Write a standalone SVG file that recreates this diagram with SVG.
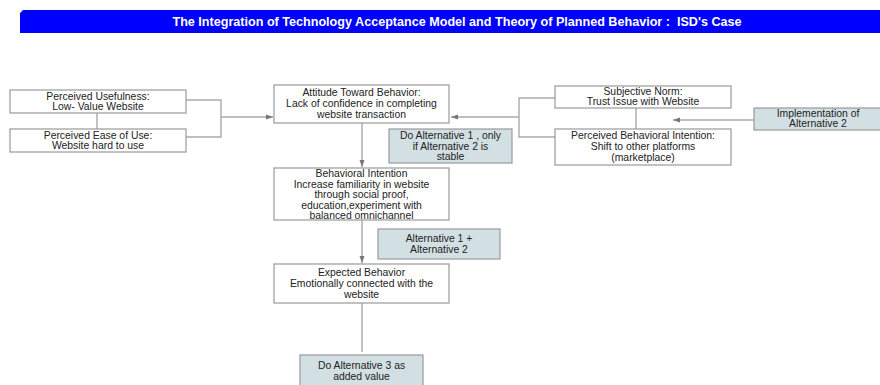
<svg xmlns="http://www.w3.org/2000/svg" width="880" height="385" viewBox="0 0 880 385">
<defs>
<marker id="arr" markerWidth="8" markerHeight="6" refX="7" refY="3" orient="auto" markerUnits="userSpaceOnUse">
<path d="M0,0.5 L7,3 L0,5.5 Z" fill="#777"/>
</marker>
<style>
.box{fill:#ffffff;stroke:#999;stroke-width:1.2}
.alt{fill:#d3e0e3;stroke:#999;stroke-width:1.2}
.t{font-family:"Liberation Sans",Arial,sans-serif;font-size:10.4px;fill:#222;text-anchor:middle}
.c{fill:none;stroke:#aaa;stroke-width:1.4}
.title{font-family:"Liberation Sans",Arial,sans-serif;font-size:12.6px;font-weight:bold;fill:#fff;text-anchor:middle}
</style>
</defs>
<rect width="880" height="385" fill="#fff"/>
<g id="title">
<path d="M23,10 L880,10 L880,33 L20,33 L20,13 Z" fill="#0000ff"/>
<text class="title" x="457" y="26" xml:space="preserve">The Integration of Technology Acceptance Model and Theory of Planned Behavior :  ISD's Case</text>
</g>
<g id="connectors">
<path class="c" d="M97,113 V129"/>
<path class="c" d="M186,100 H221 V137 H186"/>
<path class="c" d="M221,117 H273" marker-end="url(#arr)"/>
<path class="c" d="M555,98 H519 V137 H555"/>
<path class="c" d="M519,117 H451" marker-end="url(#arr)"/>
<path class="c" d="M636,108 V129"/>
<path class="c" d="M754,120 H673" marker-end="url(#arr)"/>
<path class="c" d="M362,123 V167" marker-end="url(#arr)"/>
<path class="c" d="M362,220 V263" marker-end="url(#arr)"/>
<path class="c" d="M362,303 V352"/>
</g>
<g id="pu">
<rect class="box" x="10" y="90" width="176" height="23"/>
<text class="t" x="98" y="99.5">Perceived Usefulness:</text>
<text class="t" x="98" y="109.5">Low- Value Website</text>
</g>
<g id="peou">
<rect class="box" x="10" y="129" width="176" height="23"/>
<text class="t" x="98" y="138.5">Perceived Ease of Use:</text>
<text class="t" x="98" y="148.5">Website hard to use</text>
</g>
<g id="attitude">
<rect class="box" x="274" y="85" width="175" height="38"/>
<text class="t" x="361.5" y="96">Attitude Toward Behavior:</text>
<text class="t" x="361.5" y="107">Lack of confidence in completing</text>
<text class="t" x="361.5" y="118">website transaction</text>
</g>
<g id="sn">
<rect class="box" x="555" y="86" width="176" height="22"/>
<text class="t" x="643" y="95">Subjective Norm:</text>
<text class="t" x="643" y="105">Trust Issue with Website</text>
</g>
<g id="pbi">
<rect class="box" x="555" y="129" width="176" height="36"/>
<text class="t" x="643" y="139">Perceived Behavioral Intention:</text>
<text class="t" x="643" y="150">Shift to other platforms</text>
<text class="t" x="643" y="161">(marketplace)</text>
</g>
<g id="impl">
<rect class="alt" x="754" y="108" width="128" height="22"/>
<text class="t" x="818" y="117">Implementation of</text>
<text class="t" x="818" y="127">Alternative 2</text>
</g>
<g id="alt1only">
<rect class="alt" x="389" y="129" width="123" height="34"/>
<text class="t" x="450.5" y="139">Do Alternative 1 , only</text>
<text class="t" x="450.5" y="149.5">if Alternative 2 is</text>
<text class="t" x="450.5" y="160">stable</text>
</g>
<g id="bi">
<rect class="box" x="274" y="168" width="175" height="52"/>
<text class="t" x="361.5" y="177">Behavioral Intention</text>
<text class="t" x="361.5" y="187.5">Increase familiarity in website</text>
<text class="t" x="361.5" y="198">through social proof,</text>
<text class="t" x="361.5" y="208.5">education,experiment with</text>
<text class="t" x="361.5" y="219">balanced omnichannel</text>
</g>
<g id="alt12">
<rect class="alt" x="378" y="229" width="122" height="30"/>
<text class="t" x="439" y="242">Alternative 1 +</text>
<text class="t" x="439" y="252.5">Alternative 2</text>
</g>
<g id="expected">
<rect class="box" x="274" y="264" width="175" height="39"/>
<text class="t" x="361.5" y="276">Expected Behavior</text>
<text class="t" x="361.5" y="287">Emotionally connected with the</text>
<text class="t" x="361.5" y="298">website</text>
</g>
<g id="alt3">
<rect class="alt" x="300" y="355" width="123" height="34"/>
<text class="t" x="361.5" y="368.5">Do Alternative 3 as</text>
<text class="t" x="361.5" y="379.5">added value</text>
</g>
</svg>
